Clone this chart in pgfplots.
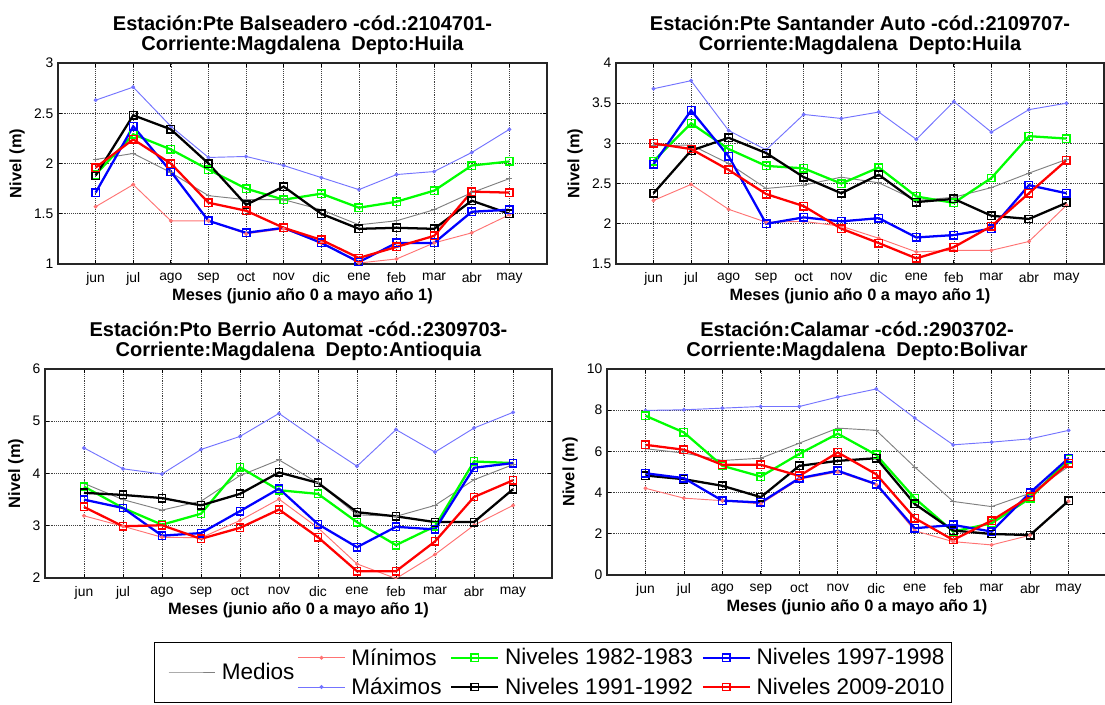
\documentclass[border=0pt]{standalone}
\usepackage{pgfplots}
\pgfplotsset{compat=1.18}
\usepackage{pgfplotstable}
\usepackage{fontspec}
\setmainfont{Liberation Sans}

\definecolor{cmin}{RGB}{255,115,115}
\definecolor{cmax}{RGB}{115,115,255}
\definecolor{cmed}{RGB}{128,128,128}
\definecolor{cg}{RGB}{0,255,0}
\definecolor{cb}{RGB}{0,0,255}
\definecolor{cr}{RGB}{255,0,0}

\pgfplotstableread{
x med mn mx g k b r
1 2.04 1.57 2.63 1.89 1.88 1.71 1.96
2 2.10 1.79 2.76 2.29 2.48 2.37 2.24
3 1.91 1.43 2.37 2.14 2.34 1.92 2.00
4 1.68 1.43 2.06 1.94 2.00 1.43 1.61
5 1.64 1.30 2.07 1.75 1.59 1.31 1.53
6 1.64 1.35 1.98 1.64 1.77 1.36 1.36
7 1.54 1.21 1.86 1.70 1.50 1.21 1.24
8 1.39 1.01 1.74 1.56 1.35 1.02 1.06
9 1.43 1.05 1.89 1.62 1.36 1.21 1.17
10 1.54 1.21 1.92 1.73 1.35 1.21 1.28
11 1.71 1.31 2.11 1.98 1.63 1.52 1.72
12 1.85 1.49 2.34 2.02 1.50 1.54 1.71
}\tabTL

\pgfplotstableread{
x med mn mx g k b r
1 2.97 2.29 3.68 2.78 2.38 2.74 3.00
2 2.98 2.49 3.78 3.25 2.91 3.41 2.93
3 2.75 2.18 3.16 2.93 3.07 2.84 2.67
4 2.44 2.02 2.92 2.72 2.88 2.00 2.37
5 2.48 2.03 3.36 2.69 2.58 2.08 2.22
6 2.58 1.97 3.31 2.50 2.38 2.03 1.94
7 2.51 1.82 3.39 2.70 2.61 2.07 1.76
8 2.29 1.65 3.05 2.34 2.27 1.83 1.57
9 2.33 1.67 3.52 2.26 2.31 1.86 1.71
10 2.45 1.67 3.14 2.57 2.10 1.94 1.97
11 2.63 1.78 3.42 3.09 2.06 2.48 2.38
12 2.80 2.23 3.50 3.06 2.26 2.38 2.79
}\tabTR

\pgfplotstableread{
x med mn mx g k b r
1 3.81 3.19 4.49 3.75 3.63 3.50 3.36
2 3.50 2.99 4.09 3.34 3.59 3.34 2.99
3 3.30 2.78 3.99 3.02 3.53 2.81 3.01
4 3.47 2.77 4.46 3.23 3.39 2.86 2.75
5 3.96 3.10 4.71 4.12 3.61 3.28 2.96
6 4.26 3.51 5.15 3.68 4.02 3.71 3.31
7 3.82 2.96 4.63 3.61 3.82 3.03 2.78
8 3.21 2.27 4.14 3.07 3.26 2.59 2.13
9 3.18 1.99 4.84 2.63 3.18 2.98 2.13
10 3.39 2.45 4.41 2.99 3.07 2.93 2.70
11 3.88 3.01 4.87 4.23 3.07 4.11 3.55
12 4.17 3.39 5.17 4.20 3.70 4.20 3.87
}\tabBL

\pgfplotstableread{
x med mn mx g k b r
1 6.13 4.21 7.99 7.73 4.83 4.94 6.32
2 5.92 3.73 8.02 6.92 4.65 4.70 6.08
3 5.56 3.61 8.10 5.30 4.33 3.61 5.35
4 5.67 3.45 8.18 4.78 3.78 3.52 5.35
5 6.40 4.65 8.18 5.88 5.30 4.70 4.81
6 7.13 5.00 8.64 6.86 5.54 5.06 5.95
7 7.02 4.38 9.03 5.83 5.67 4.41 4.89
8 5.24 2.15 7.62 3.73 3.45 2.27 2.76
9 3.57 1.62 6.32 2.11 2.16 2.43 1.70
10 3.32 1.46 6.45 2.51 1.99 2.11 2.64
11 3.97 1.93 6.61 3.73 1.94 4.00 3.81
12 5.27 3.58 7.02 5.62 3.60 5.67 5.43
}\tabBR

\pgfplotsset{
  panel/.style={
    scale only axis,
    anchor=south west,
    xmin=0, xmax=13,
    xtick={1,...,12},
    xticklabels={jun,jul,ago,sep,oct,nov,dic,ene,feb,mar,abr,may},
    grid=major,
    major grid style={densely dotted, black!75, line width=0.5pt},
    tick align=inside,
    major tick length=3pt,
    tick style={black, line width=0.6pt},
    axis line style={black!85, line width=0.9pt},
    /pgf/number format/assume math mode=true,
    ticklabel style={font=\fontsize{10.4}{12}\selectfont},
    xticklabel style={yshift=-3pt},
    xlabel={Meses (junio año 0 a mayo año 1)},
    ylabel={Nivel (m)},
    label style={font=\bfseries\fontsize{12.3}{13}\selectfont},
    xlabel style={at={(axis description cs:0.5,0)}, anchor=base, yshift=-27.5pt},
    title style={font=\bfseries\fontsize{15}{15}\selectfont, align=center,
                 at={(0.5,1)}, anchor=south, yshift=-3pt},
  },
  med/.style={color=cmed, line width=0.7pt, mark=+, mark size=2.2pt, mark options={solid}},
  mn/.style={color=cmin, line width=0.7pt, mark=*, mark size=1.1pt, mark options={solid}},
  mx/.style={color=cmax, line width=0.7pt, mark=*, mark size=1.1pt, mark options={solid}},
  niv/.style={line width=1.7pt, mark=square, mark size=2.8pt, mark options={solid, line width=1.1pt}},
  longlegend/.style={legend image code/.code={%
    \draw[mark repeat=2,mark phase=2,##1] plot coordinates {(0pt,0pt) (17.5pt,0pt) (35pt,0pt)};}},
  legbase/.style={
    font=\fontsize{16.9}{19}\selectfont,
    cells={anchor=west},
    nodes={inner sep=1.5pt},
    /tikz/every odd column/.append style={column sep=3pt},
    /tikz/every even column/.append style={column sep=5pt},
  },
}

\newcommand{\panelplots}[1]{%
  \addplot[med] table[x=x,y=med]{#1};
  \addplot[mn] table[x=x,y=mn]{#1};
  \addplot[mx] table[x=x,y=mx]{#1};
  \addplot[niv,cg] table[x=x,y=g]{#1};
  \addplot[niv,black] table[x=x,y=k]{#1};
  \addplot[niv,cb] table[x=x,y=b]{#1};
  \addplot[niv,cr] table[x=x,y=r]{#1};
}

\begin{document}
\begin{tikzpicture}
\path[use as bounding box] (0pt,0pt) rectangle (828.75pt,528pt);
\clip (0pt,0pt) rectangle (828.75pt,528pt);

% Top left
\begin{axis}[panel, at={(43.5pt,330pt)}, width=366.75pt, height=150.75pt,
  ymin=1, ymax=3, ytick={1,1.5,...,3},
  title={Estación:Pte Balseadero -cód.:2104701-\\Corriente:Magdalena~~Depto:Huila}]
\panelplots{\tabTL}
\end{axis}

% Top right
\begin{axis}[panel, at={(462pt,330pt)}, width=366pt, height=150.75pt,
  ymin=1.5, ymax=4, ytick={1.5,2,...,4},
  title={Estación:Pte Santander Auto -cód.:2109707-\\Corriente:Magdalena~~Depto:Huila}]
\panelplots{\tabTR}
\end{axis}

% Bottom left
\begin{axis}[panel, at={(33.75pt,94.5pt)}, width=380.25pt, height=156.75pt,
  ymin=2, ymax=6, ytick={2,3,...,6},
  title={Estación:Pto Berrio Automat -cód.:2309703-\\Corriente:Magdalena~~Depto:Antioquia}]
\panelplots{\tabBL}
\end{axis}

% Bottom right
\begin{axis}[panel, at={(455.25pt,96.75pt)}, width=375pt, height=154.5pt,
  ymin=0, ymax=10, ytick={0,2,...,10},
  title={Estación:Calamar -cód.:2903702-\\Corriente:Magdalena~~Depto:Bolivar}]
\panelplots{\tabBR}
\end{axis}

% Legend (boxed, six entries plus a placeholder column)
\begin{axis}[at={(0pt,0pt)}, anchor=south west, scale only axis,
  width=828.75pt, height=528pt, hide axis,
  xmin=0, xmax=1, ymin=0, ymax=1,
  legend columns=4,
  longlegend,
  legend style={legbase, at={(axis description cs:0.13937,0.08807)}, anchor=north west,
    draw=black, line width=0.7pt,
    inner xsep=4pt, inner ysep=3pt, row sep=5pt}]
\addlegendimage{empty legend}
\addlegendentry{\hspace{38pt}\phantom{Medios}}
\addlegendimage{mn}
\addlegendentry{Mínimos}
\addlegendimage{niv,cg}
\addlegendentry{Niveles 1982-1983}
\addlegendimage{niv,cb}
\addlegendentry{Niveles 1997-1998}
\addlegendimage{empty legend}
\addlegendentry{\hspace{38pt}\phantom{Medios}}
\addlegendimage{mx}
\addlegendentry{Máximos}
\addlegendimage{niv,black}
\addlegendentry{Niveles 1991-1992}
\addlegendimage{niv,cr}
\addlegendentry{Niveles 2009-2010}
\end{axis}

% Legend entry "Medios", centred between the two rows
\begin{axis}[at={(0pt,0pt)}, anchor=south west, scale only axis,
  width=828.75pt, height=528pt, hide axis,
  xmin=0, xmax=1, ymin=0, ymax=1,
  longlegend,
  legend style={legbase, at={(axis description cs:0.1520,0.04545)}, anchor=west,
    draw=none, fill=none, inner xsep=0pt, inner ysep=0pt}]
\addlegendimage{cmed, line width=0.7pt}
\addlegendentry{Medios}
\end{axis}
\end{tikzpicture}
\end{document}
